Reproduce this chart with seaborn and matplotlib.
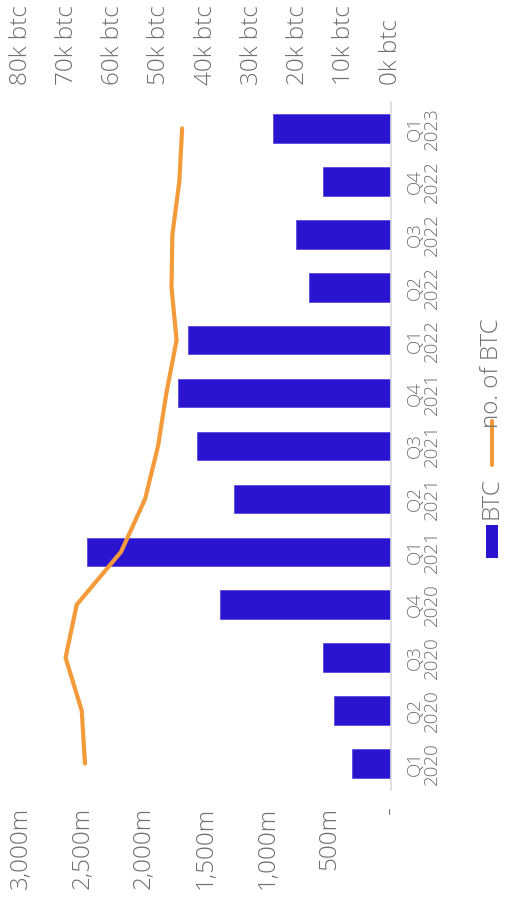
import numpy as np
import pandas as pd
import matplotlib
matplotlib.use("Agg")
import matplotlib.pyplot as plt
import seaborn as sns
from matplotlib.patches import Rectangle
from matplotlib.lines import Line2D

quarters = ["Q1\n2020", "Q2\n2020", "Q3\n2020", "Q4\n2020",
            "Q1\n2021", "Q2\n2021", "Q3\n2021", "Q4\n2021",
            "Q1\n2022", "Q2\n2022", "Q3\n2022", "Q4\n2022", "Q1\n2023"]
btc_value_m = [314, 460, 547, 1382, 2466, 1271, 1571, 1725, 1641, 665, 770, 547, 952]
btc_count = [66100, 66800, 70300, 67900, 58300, 53100, 50300, 48500, 46300, 47400, 47200, 45700, 45100]

value_ticks = [0, 500, 1000, 1500, 2000, 2500, 3000]
value_labels = ["-", "500m", "1,000m", "1,500m", "2,000m", "2,500m", "3,000m"]
count_ticks = [0, 10000, 20000, 30000, 40000, 50000, 60000, 70000, 80000]
count_labels = ["0k btc", "10k btc", "20k btc", "30k btc", "40k btc",
                "50k btc", "60k btc", "70k btc", "80k btc"]

BAR = "#2A14D0"
LINE = "#F39A3A"
GREY = "#707070"
AX_FS = 17.5
CAT_FS = 13.5
FW = "light"

sns.set_theme(style="white")
plt.rcParams["font.family"] = ["Open Sans", "DejaVu Sans"]

W, H = 505, 897
fig = plt.figure(figsize=(W / 100, H / 100), dpi=100)
x0, x1 = 20.7, 390.7
y_top, y_bot = 102, 790
ax = fig.add_axes([x0 / W, (H - y_bot) / H, (x1 - x0) / W, (y_bot - y_top) / H])

df = pd.DataFrame({"quarter": quarters, "value": btc_value_m, "count": btc_count})
sns.barplot(data=df, x="value", y="quarter", orient="h", ax=ax, color=BAR,
            width=0.54, saturation=1, edgecolor="#5A4CDB", linewidth=0.6)
ax.set_ylim(-0.5, len(quarters) - 0.5)
ax.set_xlim(3000, 0)
ax.set_xticks(value_ticks)
ax.set_xticklabels(value_labels)
ax.set_xlabel("")
ax.set_ylabel("")
ax.yaxis.tick_right()
ax.tick_params(axis="x", length=0, pad=12, labelsize=AX_FS, labelcolor=GREY, labelrotation=90)
ax.tick_params(axis="y", length=0, pad=11, labelsize=CAT_FS, labelcolor=GREY, labelrotation=90)
for t in ax.get_yticklabels():
    t.set_va("center")
    t.set_ha("left")
    t.set_multialignment("center")
    t.set_linespacing(0.95)
    t.set_fontweight(FW)
for t in ax.get_xticklabels():
    t.set_fontweight(FW)
for s in ["left", "top", "bottom"]:
    ax.spines[s].set_visible(False)
ax.spines["right"].set_color("#D9D9D9")
ax.spines["right"].set_linewidth(1.2)

ax2 = ax.twiny()
sns.lineplot(x=btc_count, y=np.arange(len(quarters)), orient="y", sort=False,
             ax=ax2, color=LINE, linewidth=3, solid_capstyle="round")
ax2.set_xlim(80000, 0)
ax2.set_ylim(-0.5, len(quarters) - 0.5)
ax2.set_xticks(count_ticks)
ax2.set_xticklabels(count_labels)
ax2.tick_params(axis="x", length=0, pad=12, labelsize=AX_FS, labelcolor=GREY, labelrotation=90)
for t in ax2.get_xticklabels():
    t.set_fontweight(FW)
ax2.set_xlabel("")
ax2.set_ylabel("")
for s in ax2.spines.values():
    s.set_visible(False)

# custom rotated legend
def fx(px):
    return px / W

def fy(py):
    return (H - py) / H

fig.add_artist(Rectangle((fx(486), fy(558)), 12 / W, 33 / H, transform=fig.transFigure,
                         facecolor=BAR, edgecolor="none"))
fig.text(fx(492), fy(498), "BTC", rotation=90, ha="center", va="center",
         fontsize=AX_FS, color=GREY, fontweight=FW)
fig.add_artist(Line2D([fx(492), fx(492)], [fy(465), fy(421)], transform=fig.transFigure,
                      color=LINE, linewidth=3, solid_capstyle="round"))
fig.text(fx(492), fy(373), "no. of BTC", rotation=90, ha="center", va="center",
         fontsize=AX_FS, color=GREY, fontweight=FW)

fig.savefig("out.png", dpi=100)
